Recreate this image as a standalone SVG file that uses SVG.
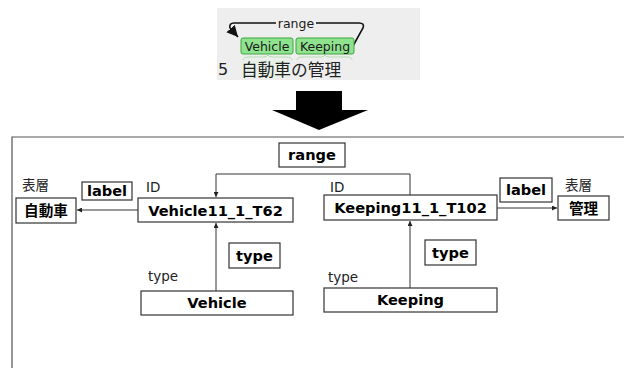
<svg xmlns="http://www.w3.org/2000/svg" width="624" height="368" viewBox="0 0 624 368">
<style>
.box{fill:#fff;stroke:#333;stroke-width:1.2}
.bt{font-family:"DejaVu Sans","Noto Sans CJK JP",sans-serif;font-weight:bold;font-size:14.6px;fill:#000;text-anchor:middle}
.lt{font-family:"DejaVu Sans","Noto Sans CJK JP",sans-serif;font-size:13.5px;fill:#222}
.con{fill:none;stroke:#333;stroke-width:1}
.gb{fill:#8fe38f;stroke:#3ea53e;stroke-width:1}
.gt{font-family:"DejaVu Sans",sans-serif;font-size:12.5px;fill:#1a1a1a;text-anchor:middle}
</style>
<defs>
<marker id="ah" viewBox="0 0 8 8" refX="8" refY="4" markerWidth="5" markerHeight="5" orient="auto"><path d="M0,0 L8,4 L0,8 z" fill="#222"/></marker>
<marker id="ah2" viewBox="0 0 8 8" refX="8" refY="4" markerWidth="7" markerHeight="7" orient="auto"><path d="M0,0 L8,4 L0,8 z" fill="#111"/></marker>
</defs>
<rect width="624" height="368" fill="#fff"/>
<g id="top-example">
<rect x="217" y="8" width="203" height="72" fill="#eeeeee"/>
<path d="M276,23 L234,23 Q229,23 230,28 L238,37" fill="none" stroke="#111" stroke-width="1.6" marker-end="url(#ah2)"/>
<path d="M316,23 L359,23 Q365,23 363,28 L353,46" fill="none" stroke="#111" stroke-width="1.6"/>
<text x="296" y="27.5" class="gt" font-size="12">range</text>
<rect x="241" y="38" width="52" height="16" rx="2" class="gb"/>
<text x="267" y="51" class="gt">Vehicle</text>
<rect x="296" y="38" width="58" height="16" rx="2" class="gb"/>
<text x="325" y="51" class="gt">Keeping</text>
<path d="M243,60 Q243,57 250,57 L263,57 Q267,57 268,55 Q269,57 273,57 L286,57 Q292,57 292,60" fill="none" stroke="#b5dcb5" stroke-width="1"/>
<path d="M297,60 Q297,57 303,57 L321,57 Q324,57 325,55 Q326,57 329,57 L347,57 Q352,57 352,60" fill="none" stroke="#b5dcb5" stroke-width="1"/>
<rect x="242" y="60" width="48" height="18" fill="#e6f4e6" opacity="0.7"/>
<text x="218" y="75" font-family="DejaVu Sans,'Noto Sans CJK JP',sans-serif" font-size="16" fill="#222">5</text>
<text x="241" y="75.5" font-family="'Noto Sans CJK JP',sans-serif" font-size="16.7" fill="#222">自動車の管理</text>
</g>
<g id="big-arrow">
<path d="M296,91 L342,91 L342,110 L368,110 L319,130 L272,110 L296,110 z" fill="#000"/>
</g>
<g id="frame">
<path d="M12,368 L12,137 L624,137" fill="none" stroke="#555" stroke-width="1.2"/>
</g>
<g id="connectors">
<path class="con" d="M410,195 L410,174 L216,174 L216,197" marker-end="url(#ah)"/>
<line class="con" x1="138" y1="210" x2="77" y2="210" marker-end="url(#ah)"/>
<line class="con" x1="216" y1="291" x2="216" y2="223" marker-end="url(#ah)"/>
<line class="con" x1="497" y1="208" x2="557" y2="208" marker-end="url(#ah)"/>
<line class="con" x1="410" y1="288" x2="410" y2="221" marker-end="url(#ah)"/>
</g>
<g id="range-label">
<rect class="box" x="279" y="143" width="66" height="24"/>
<text class="bt" x="312" y="160">range</text>
</g>
<g id="jidosha">
<text class="lt" x="22" y="190">表層</text>
<rect class="box" x="16" y="198" width="60" height="25"/>
<text class="bt" x="46" y="216">自動車</text>
</g>
<g id="label-left">
<rect class="box" x="82" y="182" width="50" height="18"/>
<text class="bt" x="107" y="196">label</text>
</g>
<g id="vehicle-id">
<text class="lt" x="146" y="192">ID</text>
<rect class="box" x="138" y="198" width="155" height="24"/>
<text class="bt" x="215.5" y="215.5">Vehicle11_1_T62</text>
</g>
<g id="type-left">
<rect class="box" x="229" y="243" width="51" height="25"/>
<text class="bt" x="254.5" y="261">type</text>
</g>
<g id="vehicle-type">
<text class="lt" x="148" y="281">type</text>
<rect class="box" x="141" y="291" width="152" height="24"/>
<text class="bt" x="217" y="308">Vehicle</text>
</g>
<g id="keeping-id">
<text class="lt" x="330" y="192">ID</text>
<rect class="box" x="324" y="195" width="173" height="25"/>
<text class="bt" x="410.5" y="213">Keeping11_1_T102</text>
</g>
<g id="label-right">
<rect class="box" x="500" y="178" width="52" height="24"/>
<text class="bt" x="526" y="195">label</text>
</g>
<g id="kanri">
<text class="lt" x="565" y="190">表層</text>
<rect class="box" x="558" y="196" width="51" height="24"/>
<text class="bt" x="583.5" y="213.5">管理</text>
</g>
<g id="type-right">
<rect class="box" x="425" y="240" width="51" height="25"/>
<text class="bt" x="450.5" y="258">type</text>
</g>
<g id="keeping-type">
<text class="lt" x="328" y="282">type</text>
<rect class="box" x="324" y="288" width="173" height="24"/>
<text class="bt" x="410.5" y="305">Keeping</text>
</g>
</svg>
